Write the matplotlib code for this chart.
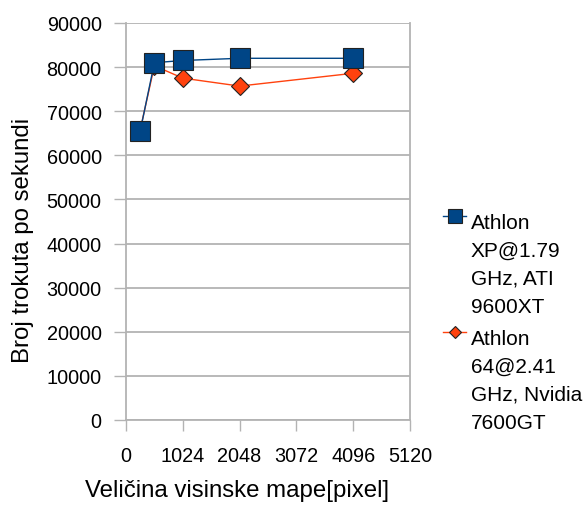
import matplotlib.pyplot as plt
from matplotlib.lines import Line2D

plt.rcParams['font.family'] = ['Liberation Sans', 'DejaVu Sans']

# map size (pixels) vs triangles per second
sizes = [256, 512, 1024, 2048, 4096]
ati_9600xt = [65500, 81000, 81500, 82000, 82000]
nvidia_7600gt = [65800, 80300, 77500, 75700, 78600]

labels = ["Athlon\nXP@1.79\nGHz, ATI\n9600XT",
          "Athlon\n64@2.41\nGHz, Nvidia\n7600GT"]
x_ticks = [0, 1024, 2048, 3072, 4096, 5120]
y_ticks = list(range(0, 90001, 10000))

blue = '#004586'
orange = '#ff420e'
grey = '#b3b3b3'
tick_fs = 14.3
title_fs = 17.3
legend_fs = 15

W, H = 584, 506
fig = plt.figure(figsize=(W / 100, H / 100), dpi=100)
ax = fig.add_axes([126 / W, (H - 421) / H, (410 - 126) / W, (421 - 24) / H])

ax.plot(sizes, nvidia_7600gt, color=orange, lw=1, marker='D', ms=9.5,
        mfc=orange, mec='#222222', mew=0.8, zorder=3, clip_on=False)
ax.plot(sizes, ati_9600xt, color=blue, lw=1, marker='s', ms=14,
        mfc=blue, mec='#222222', mew=0.8, zorder=4, clip_on=False)

ax.set_xlim(0, 5120)
ax.set_ylim(0, 90000)
ax.set_xticks(x_ticks)
ax.set_yticks(y_ticks)
ax.set_xticklabels([str(v) for v in x_ticks], fontsize=tick_fs)
ax.set_yticklabels([str(v) for v in y_ticks], fontsize=tick_fs)
ax.yaxis.grid(True, color=grey, lw=1.3)
ax.set_axisbelow(True)
ax.tick_params(axis='x', direction='out', length=8, width=1, color=grey, pad=11)
ax.tick_params(axis='y', direction='out', length=8.5, width=1, color=grey, pad=9)
for side in ['left', 'bottom', 'right']:
    ax.spines[side].set_color(grey)
    ax.spines[side].set_linewidth(1.3)
ax.spines['top'].set_visible(False)

fig.text(237 / W, 1 - 491 / H, "Veličina visinske mape[pixel]",
         ha='center', va='center', fontsize=title_fs)
fig.text(23 / W, 1 - 240 / H, "Broj trokuta po sekundi",
         ha='center', va='center', rotation=90, fontsize=title_fs)

# legend drawn by hand so the key sits on the first text line
entries = [(blue, 's', 9.5, labels[0], 217), (orange, 'D', 6.6, labels[1], 333)]
for color, mk, ms, text, yc in entries:
    y = 1 - yc / H
    fig.add_artist(Line2D([443 / W, 466 / W], [y, y], color=color, lw=1,
                          transform=fig.transFigure))
    fig.add_artist(Line2D([454.5 / W], [y], color=color, marker=mk,
                          ms=ms, mfc=color, mec='#222222', mew=0.8,
                          transform=fig.transFigure))
    fig.text(471 / W, 1 - (yc - 3) / H, text, ha='left', va='top',
             fontsize=legend_fs, linespacing=1.59)

fig.savefig('out.png', dpi=100)
